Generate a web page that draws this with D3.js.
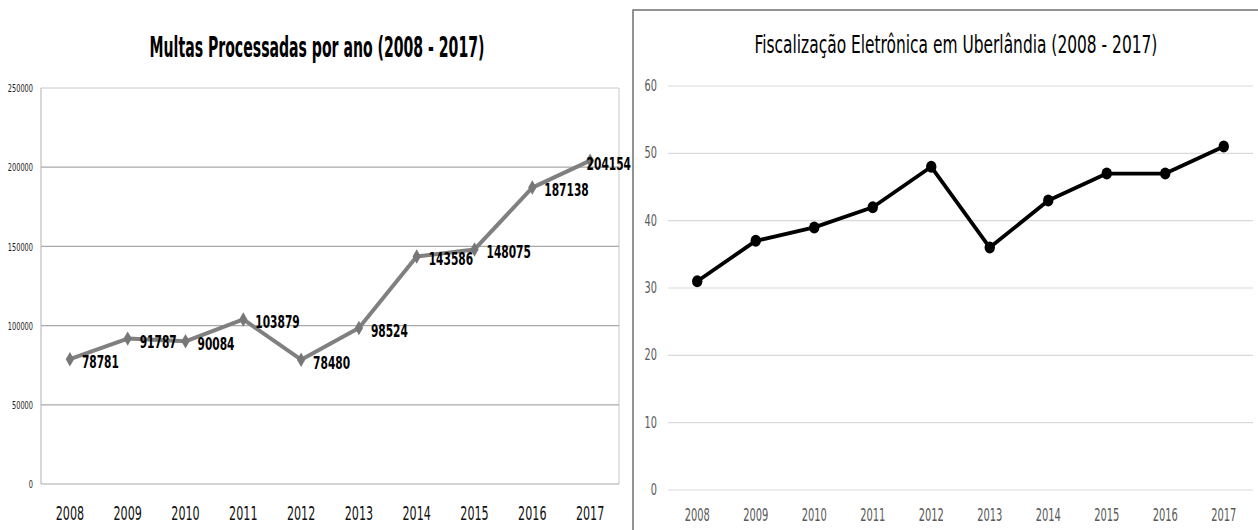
<!DOCTYPE html>
<html>
<head>
<meta charset="utf-8">
<script src="https://cdn.jsdelivr.net/npm/d3@7"></script>
<style>
  body { margin: 0; background: #fff; }
  svg { display: block; }
</style>
</head>
<body>
<svg id="chart" width="1258" height="530"></svg>
<script>
// ---- data ----
const years = ["2008", "2009", "2010", "2011", "2012", "2013", "2014", "2015", "2016", "2017"];
const multas = [78781, 91787, 90084, 103879, 78480, 98524, 143586, 148075, 187138, 204154];
const fiscalizacao = [31, 37, 39, 42, 48, 36, 43, 47, 47, 51];
const multasTicks = [0, 50000, 100000, 150000, 200000, 250000];
const fiscTicks = [0, 10, 20, 30, 40, 50, 60];
const multasTitle = "Multas Processadas por ano (2008 - 2017)";
const fiscTitle = "Fiscalização Eletrônica em Uberlândia (2008 - 2017)";

const FONT = "'Liberation Sans Narrow', 'DejaVu Sans Condensed', 'Liberation Sans', sans-serif";
const svg = d3.select("#chart");

// Condensed text: rendered at the given size, then squeezed horizontally
// so that it spans `width` pixels (or `charW` pixels per character).
function condensed(g, x, y, str, o) {
  const t = g.append("text")
    .attr("text-anchor", o.anchor || "start")
    .attr("dominant-baseline", o.baseline || "alphabetic")
    .style("font-family", FONT)
    .style("font-size", o.size + "px")
    .style("font-weight", o.weight || "normal")
    .attr("fill", o.fill || "#000")
    .text(str);
  const natural = t.node().getComputedTextLength();
  const target = o.width != null ? o.width : str.length * o.charW;
  const sx = natural > 0 ? target / natural : 1;
  t.attr("transform", `translate(${x},${y}) scale(${sx},1)`);
  return t;
}

// ================= left panel: Multas Processadas =================
{
  const g = svg.append("g");
  const x = d3.scaleBand().domain(years).range([41, 619]);
  const cx = d => x(d) + x.bandwidth() / 2;
  const y = d3.scaleLinear().domain([0, 250000]).range([484, 88]);

  // plot frame
  g.append("line").attr("x1", 41).attr("x2", 619).attr("y1", y(250000)).attr("y2", y(250000))
    .attr("stroke", "#c8c8c8").attr("stroke-width", 1);
  g.append("line").attr("x1", 619).attr("x2", 619).attr("y1", y(250000)).attr("y2", y(0))
    .attr("stroke", "#c8c8c8").attr("stroke-width", 1);
  g.append("line").attr("x1", 41).attr("x2", 41).attr("y1", y(250000)).attr("y2", y(0))
    .attr("stroke", "#bdbdbd").attr("stroke-width", 1.2);

  // gridlines
  g.selectAll("line.grid").data(multasTicks.filter(t => t < 250000)).join("line")
    .attr("class", "grid")
    .attr("x1", 41).attr("x2", 619)
    .attr("y1", d => y(d)).attr("y2", d => y(d))
    .attr("stroke", "#a9a9a9").attr("stroke-width", 1.2);

  // y tick labels
  multasTicks.forEach(t => condensed(g, 33, y(t), String(t), {
    anchor: "end", baseline: "central", size: 11, charW: 4.2, fill: "#222"
  }));

  // x labels
  years.forEach(yr => condensed(g, cx(yr), 520, yr, {
    anchor: "middle", size: 20, charW: 7.1, fill: "#111"
  }));

  // title
  condensed(g, 317, 57, multasTitle, {
    anchor: "middle", size: 28, weight: "bold", width: 335
  });

  // line + diamond markers
  const line = d3.line().x((d, i) => cx(years[i])).y(d => y(d));
  g.append("path").datum(multas).attr("d", line)
    .attr("fill", "none").attr("stroke", "#808080").attr("stroke-width", 4)
    .attr("stroke-linejoin", "round");
  g.selectAll("path.mk").data(multas).join("path")
    .attr("class", "mk")
    .attr("transform", (d, i) => `translate(${cx(years[i])},${y(d)})`)
    .attr("d", d3.symbol(d3.symbolDiamond, 60))
    .attr("fill", "#777");

  // value labels to the right of each point, kept inside the panel
  const panelRight = 631;
  multas.forEach((v, i) => {
    const str = String(v);
    const charW = 7.4;
    const w = str.length * charW;
    let lx = cx(years[i]) + 12;
    if (lx + w > panelRight) lx = panelRight - w;
    condensed(g, lx, y(v) + 3, str, {
      anchor: "start", baseline: "central", size: 18, charW, weight: "bold"
    });
  });
}

// ================= right panel: Fiscalização Eletrônica =================
{
  const g = svg.append("g");
  const x = d3.scaleBand().domain(years).range([668, 1253]);
  const cx = d => x(d) + x.bandwidth() / 2;
  const y = d3.scaleLinear().domain([0, 60]).range([490, 86]);

  // outer chart frame
  g.append("rect").attr("x", 633).attr("y", 10).attr("width", 700).attr("height", 600)
    .attr("fill", "none").attr("stroke", "#707070").attr("stroke-width", 1.5);

  // gridlines
  g.selectAll("line.grid").data(fiscTicks).join("line")
    .attr("class", "grid")
    .attr("x1", 668).attr("x2", 1253)
    .attr("y1", d => y(d)).attr("y2", d => y(d))
    .attr("stroke", "#d9d9d9").attr("stroke-width", 1.2);

  // y tick labels
  fiscTicks.forEach(t => condensed(g, 657, y(t), String(t), {
    anchor: "end", baseline: "central", size: 15, charW: 6.2, fill: "#595959"
  }));

  // x labels
  years.forEach(yr => condensed(g, cx(yr), 521, yr, {
    anchor: "middle", size: 18, charW: 6.3, fill: "#595959"
  }));

  // title
  condensed(g, 956, 53, fiscTitle, {
    anchor: "middle", size: 25, width: 403
  });

  // line + circle markers
  const line = d3.line().x((d, i) => cx(years[i])).y(d => y(d));
  g.append("path").datum(fiscalizacao).attr("d", line)
    .attr("fill", "none").attr("stroke", "#000").attr("stroke-width", 3.8)
    .attr("stroke-linejoin", "round");
  g.selectAll("ellipse.mk").data(fiscalizacao).join("ellipse")
    .attr("class", "mk")
    .attr("cx", (d, i) => cx(years[i])).attr("cy", d => y(d))
    .attr("rx", 5.2).attr("ry", 6)
    .attr("fill", "#000");
}
</script>
</body>
</html>
